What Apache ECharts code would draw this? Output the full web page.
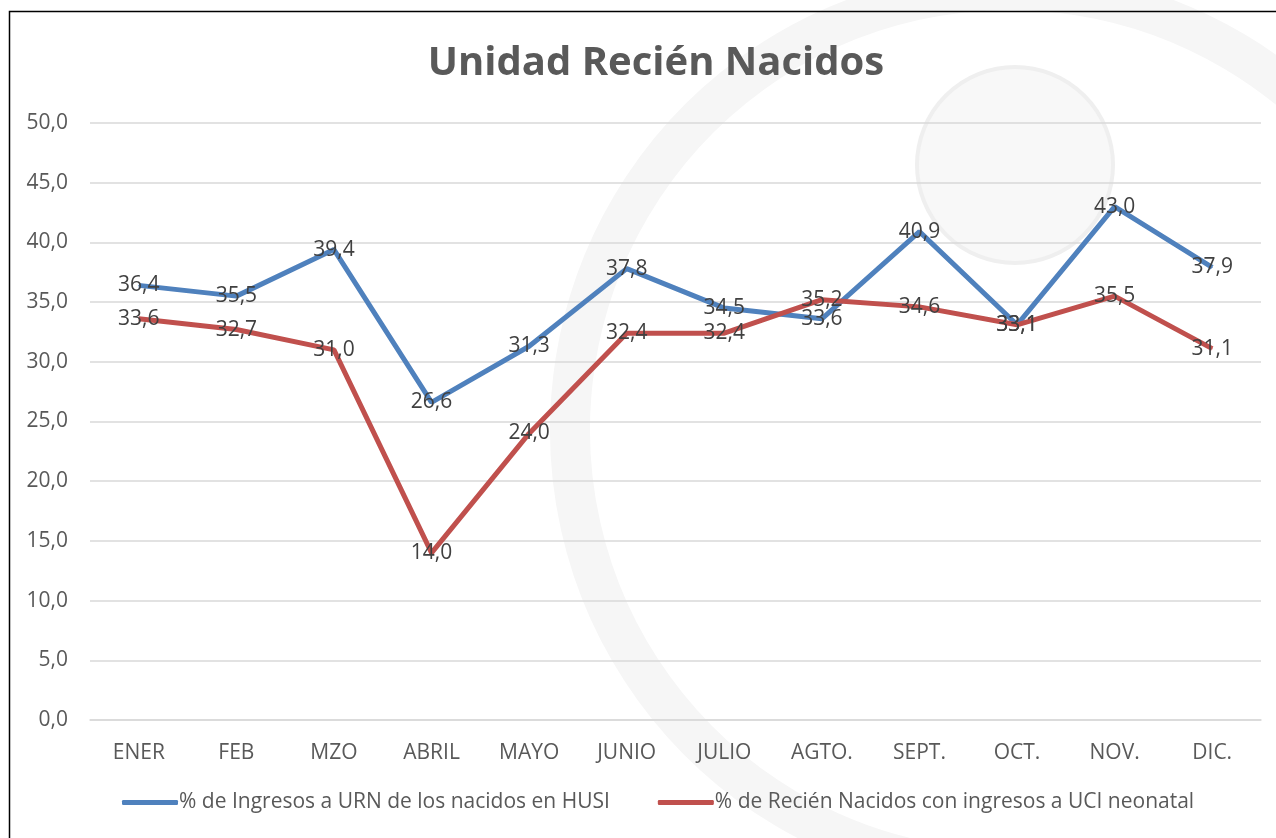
<!DOCTYPE html>
<html>
<head>
<meta charset="utf-8">
<script src="https://cdn.jsdelivr.net/npm/echarts@6/dist/echarts.min.js"></script>
<style>
  html, body { margin: 0; padding: 0; background: #fff; }
  #chart { width: 1276px; height: 838px; }
</style>
</head>
<body>
<div id="chart"></div>
<script>
// 月の見出し
const months = ['ENER', 'FEB', 'MZO', 'ABRIL', 'MAYO', 'JUNIO', 'JULIO', 'AGTO.', 'SEPT.', 'OCT.', 'NOV.', 'DIC.'];

// 系列名
const seriesNames = [
  '% de Ingresos a URN de los nacidos en HUSI',
  '% de Recién Nacidos con ingresos a UCI neonatal'
];

// 各系列の値
const urnValues = [36.4, 35.5, 39.4, 26.6, 31.3, 37.8, 34.5, 33.6, 40.9, 33.1, 43.0, 37.9];
const uciValues = [33.6, 32.7, 31.0, 14.0, 24.0, 32.4, 32.4, 35.2, 34.6, 33.1, 35.5, 31.1];

// 縦軸の範囲
const yMin = 0;
const yMax = 50;
const yStep = 5;

// 小数点をカンマで表示する
const fmt = v => Number(v).toFixed(1).replace('.', ',');

const chart = echarts.init(document.querySelector('#chart'));

const font = '"Open Sans", "Noto Sans", sans-serif';

// 背景の透かし（ロゴ風の薄い図形）
const watermark = [
  {
    type: 'circle',
    shape: { cx: 1015, cy: 165, r: 98 },
    style: { fill: '#f8f8f8', stroke: '#efefef', lineWidth: 4 },
    z: -10
  },
  {
    type: 'arc',
    shape: { cx: 1010, cy: 430, r: 440, startAngle: Math.PI * 0.55, endAngle: Math.PI * 2.2 },
    style: { stroke: '#f6f6f6', lineWidth: 40, fill: null },
    z: -10
  },
  // 外枠
  {
    type: 'rect',
    shape: { x: 9.5, y: 11.5, width: 1300, height: 900 },
    style: { fill: null, stroke: '#000', lineWidth: 1.5 },
    z: 100
  }
];

const option = {
  backgroundColor: '#fff',
  animation: false,
  graphic: watermark,
  title: {
    text: 'Unidad Recién Nacidos',
    left: 651,
    top: 39,
    textAlign: 'center',
    textStyle: {
      fontFamily: font,
      fontSize: 40,
      fontWeight: 'bold',
      color: '#595959'
    }
  },
  legend: {
    bottom: 20,
    left: 117,
    itemWidth: 56,
    itemHeight: 5,
    itemGap: 48,
    icon: 'roundRect',
    textStyle: { fontFamily: font, fontSize: 21, color: '#595959', padding: [0, 0, 0, -4] },
    data: seriesNames
  },
  grid: {
    left: 90,
    right: 15,
    top: 123,
    bottom: 118
  },
  xAxis: {
    type: 'category',
    data: months,
    boundaryGap: true,
    axisLine: { lineStyle: { color: '#d9d9d9', width: 1.5 } },
    axisTick: { show: false },
    axisLabel: { fontFamily: font, fontSize: 21, color: '#595959', margin: 23 }
  },
  yAxis: {
    type: 'value',
    min: yMin,
    max: yMax,
    interval: yStep,
    axisLine: { show: false },
    axisTick: { show: false },
    splitLine: { lineStyle: { color: '#d9d9d9', width: 1.5 } },
    axisLabel: {
      fontFamily: font,
      fontSize: 21,
      color: '#595959',
      margin: 22,
      formatter: v => fmt(v)
    }
  },
  series: [
    {
      name: seriesNames[0],
      type: 'line',
      data: urnValues,
      symbol: 'circle',
      symbolSize: 1,
      lineStyle: { color: '#4F81BD', width: 5 },
      itemStyle: { color: '#4F81BD' },
      label: {
        show: true,
        position: 'inside',
        fontFamily: font,
        fontSize: 21,
        color: '#404040',
        formatter: p => fmt(p.value)
      }
    },
    {
      name: seriesNames[1],
      type: 'line',
      data: uciValues,
      symbol: 'circle',
      symbolSize: 1,
      lineStyle: { color: '#C0504D', width: 5 },
      itemStyle: { color: '#C0504D' },
      label: {
        show: true,
        position: 'inside',
        fontFamily: font,
        fontSize: 21,
        color: '#404040',
        formatter: p => fmt(p.value)
      }
    }
  ]
};

chart.setOption(option);
</script>
</body>
</html>
